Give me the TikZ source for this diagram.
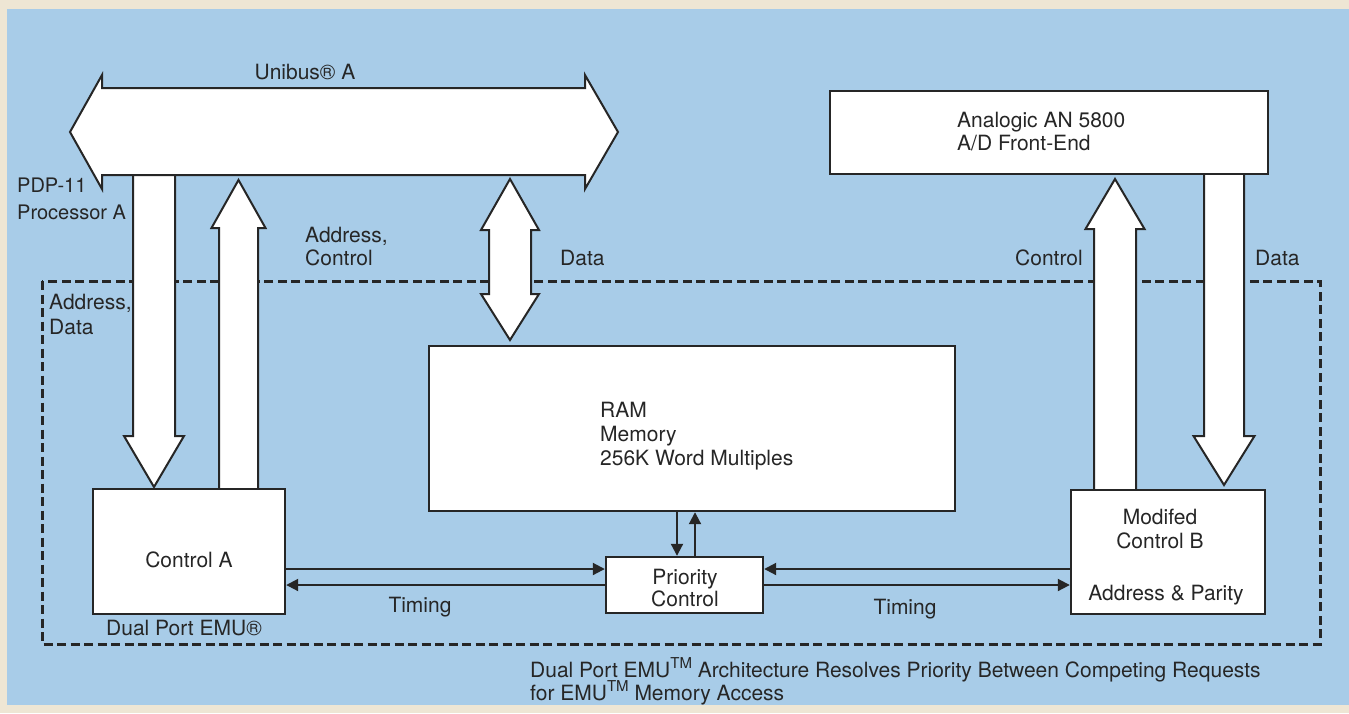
\documentclass[tikz,border=0pt]{standalone}
\usepackage{fontspec}
\setmainfont{TeX Gyre Heros}
\usetikzlibrary{arrows.meta,calc}
\definecolor{bgblue}{RGB}{168,204,232}
\definecolor{paper}{RGB}{238,230,212}
\definecolor{ink}{RGB}{38,38,38}
\newcommand\dfont{\fontsize{21}{25}\selectfont}
\newcommand\tmark{\raisebox{0.8ex}{\fontsize{15}{15}\selectfont TM}}
% vertical fat arrow: x, y tail, y head base, y tip, shaft half width, head half width
\newcommand\fatV[6]{\draw[fat] (#1-#5,#2) -- (#1-#5,#3) -- (#1-#6,#3) -- (#1,#4) -- (#1+#6,#3) -- (#1+#5,#3) -- (#1+#5,#2);}
\tikzset{
  fat/.style={draw=ink, fill=white, line width=2pt, line join=miter},
  box/.style={draw=ink, fill=white, line width=2.4pt, inner sep=0pt, rectangle},
  txt/.style={font=\dfont, text=ink, inner sep=0pt},
  sig/.style={draw=ink, line width=2pt, -{Triangle[length=12pt,width=12pt]}},
  dashbox/.style={draw=ink, line width=3pt, dash pattern=on 9pt off 4.5pt}
}
\begin{document}
\begin{tikzpicture}[x=1pt,y=-1pt]
\useasboundingbox (0,0) rectangle (1349,713);
\fill[paper] (0,0) rectangle (1349,713);
\fill[bgblue] (7,9) rectangle (1349,705);

% dashed Dual Port EMU boundary
\draw[dashbox] (42,281) rectangle (1320,644);

% fat arrows
\fatV{154}{175}{436}{487}{21}{30}
\fatV{238.5}{489}{228}{180}{19.5}{27}
\fatV{1115}{490}{229}{179}{21}{29.5}
\fatV{1224}{174}{436}{485}{20}{30.5}
\draw[fat] (489,262) -- (489,230) -- (481,230) -- (510,179) -- (539,230) -- (531,230)
  -- (531,294) -- (539,294) -- (510,340) -- (481,294) -- (489,294) -- cycle;

% Unibus A
\draw[fat] (70,132) -- (102,75) -- (102,88) -- (585,88) -- (585,75) -- (618,132)
  -- (585,189) -- (585,175) -- (102,175) -- (102,189) -- cycle;
\coordinate (bus) at (344,132);

% boxes
\node[box, minimum width=438pt, minimum height=83pt] (adc) at (1049,132.5) {};
\node[box, minimum width=526pt, minimum height=165pt] (ram) at (692,428.5) {};
\node[box, minimum width=192pt, minimum height=125pt] (ctrlA) at (189,551.5) {};
\node[box, minimum width=157pt, minimum height=56pt] (prio) at (684.5,585) {};
\node[box, minimum width=194pt, minimum height=124pt] (ctrlB) at (1168,552) {};

% timing and priority signals
\coordinate (tu) at (0,569);
\coordinate (tl) at (0,585);
\coordinate (vd) at (677,0);
\coordinate (vu) at (695,0);
\draw[sig] (ctrlA.east |- tu) -- (prio.west |- tu);
\draw[sig] (prio.west |- tl) -- (ctrlA.east |- tl);
\draw[sig] (ctrlB.west |- tu) -- (prio.east |- tu);
\draw[sig] (prio.east |- tl) -- (ctrlB.west |- tl);
\draw[sig] (ram.south -| vd) -- (prio.north -| vd);
\draw[sig] (prio.north -| vu) -- (ram.south -| vu);

% texts
\node[txt, anchor=base] (t1) at (305,79) {Unibus® A};
\node[txt, anchor=base west, font=\fontsize{20}{24}\selectfont] (t2) at (17,192) {PDP-11};
\node[txt, anchor=base west, font=\fontsize{20}{24}\selectfont] (t3) at (17,219) {Processor A};
\node[txt, anchor=base west] (t4) at (305,242) {Address,};
\node[txt, anchor=base west] (t5) at (305,265) {Control};
\node[txt, anchor=base west] (t6) at (560,265) {Data};
\node[txt, anchor=base west] (t7) at (49,309) {Address,};
\node[txt, anchor=base west] (t8) at (49,334) {Data};
\node[txt, anchor=base west] (t9) at (1015,265) {Control};
\node[txt, anchor=base west] (t10) at (1255,265) {Data};
\node[txt, anchor=base west] (t11) at (957,127) {Analogic AN 5800};
\node[txt, anchor=base west] (t12) at (957,150) {A/D Front-End};
\node[txt, anchor=base west] (t13) at (600,417) {RAM};
\node[txt, anchor=base west] (t14) at (600,441) {Memory};
\node[txt, anchor=base west] (t15) at (600,465) {256K Word Multiples};
\node[txt, anchor=base] (t16) at (189,567) {Control A};
\node[txt, anchor=base] (t17) at (685,584) {Priority};
\node[txt, anchor=base] (t18) at (685,606) {Control};
\node[txt, anchor=base] (t19) at (1160,524) {Modifed};
\node[txt, anchor=base] (t20) at (1160,548) {Control B};
\node[txt, anchor=base] (t21) at (1166,600) {Address \& Parity};
\node[txt, anchor=base] (t22) at (420,612) {Timing};
\node[txt, anchor=base] (t23) at (905,614) {Timing};
\node[txt, anchor=base west] (t24) at (106,635) {Dual Port EMU®};
\node[txt, anchor=base west] (t25) at (530,677) {Dual Port EMU\tmark\ Architecture Resolves Priority Between Competing Requests};
\node[txt, anchor=base west] (t26) at (530,700) {for EMU\tmark\ Memory Access};
\end{tikzpicture}
\end{document}
